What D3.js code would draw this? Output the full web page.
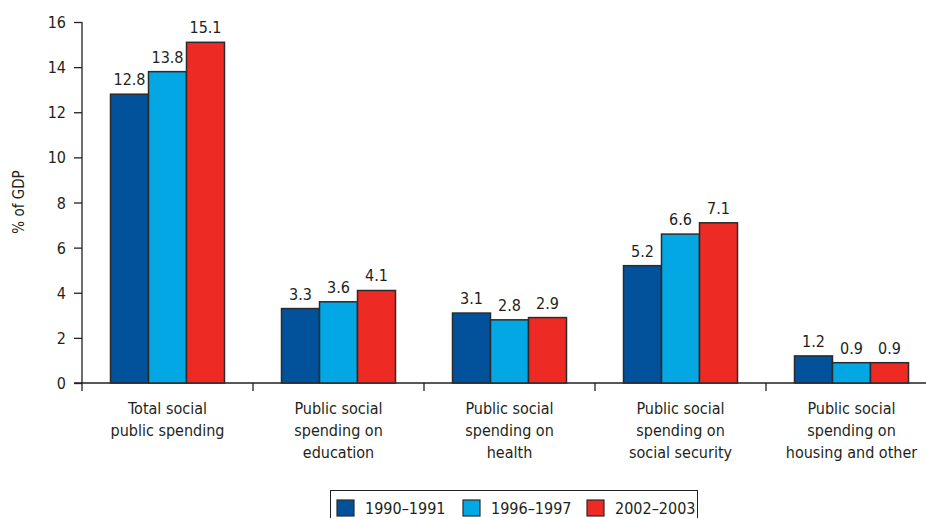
<!DOCTYPE html>
<html>
<head>
<meta charset="utf-8">
<script src="https://cdn.jsdelivr.net/npm/d3@7"></script>
<style>
  html, body { margin: 0; padding: 0; background: #fff; }
  svg text { font-family: "Liberation Sans Narrow", "DejaVu Sans Condensed", "Roboto", sans-serif; fill: #231f20; }
</style>
</head>
<body>
<svg id="chart" width="926" height="518"></svg>
<script>
// Public social spending as % of GDP, by component and period
const categories = [
  ["Total social", "public spending"],
  ["Public social", "spending on", "education"],
  ["Public social", "spending on", "health"],
  ["Public social", "spending on", "social security"],
  ["Public social", "spending on", "housing and other"]
];
const periods = ["1990–1991", "1996–1997", "2002–2003"];
const values1990 = [12.8, 3.3, 3.1, 5.2, 1.2];
const values1996 = [13.8, 3.6, 2.8, 6.6, 0.9];
const values2002 = [15.1, 4.1, 2.9, 7.1, 0.9];
const yTicks = [0, 2, 4, 6, 8, 10, 12, 14, 16];
const colors = ["#02529b", "#02a7e3", "#ee2a24"];

const series = [values1990, values1996, values2002];
const svg = d3.select("#chart");

const plotLeft = 82, plotTop = 22, plotBottom = 383;
const bandW = 171;
const plotRight = plotLeft + bandW * categories.length;

const x = d3.scaleBand().domain(d3.range(categories.length)).range([plotLeft, plotRight]).paddingInner(0).paddingOuter(0);
const xInner = d3.scaleBand().domain(d3.range(periods.length)).range([0, x.bandwidth()]).paddingOuter(0.75).paddingInner(0);
const y = d3.scaleLinear().domain([0, 16]).range([plotBottom, plotTop]);

// y axis
const yAxis = svg.append("g").attr("transform", `translate(${plotLeft},0)`)
  .call(d3.axisLeft(y).tickValues(yTicks).tickSize(8).tickPadding(8));
yAxis.select(".domain").remove();
yAxis.selectAll("line").attr("stroke", "#231f20").attr("stroke-width", 1.3);
yAxis.selectAll("text").attr("font-size", 16).attr("dy", "0.35em");
svg.append("line").attr("x1", plotLeft).attr("x2", plotLeft).attr("y1", plotTop).attr("y2", plotBottom + 8)
  .attr("stroke", "#231f20").attr("stroke-width", 1.3);

// x axis baseline and category ticks
svg.append("line").attr("x1", plotLeft - 8).attr("x2", 926).attr("y1", plotBottom).attr("y2", plotBottom)
  .attr("stroke", "#231f20").attr("stroke-width", 1.3);
const bounds = d3.range(categories.length + 1).map(i => plotLeft + i * x.step());
svg.selectAll(".xtick").data(bounds.slice(1)).join("line")
  .attr("x1", d => d).attr("x2", d => d).attr("y1", plotBottom).attr("y2", plotBottom + 8)
  .attr("stroke", "#231f20").attr("stroke-width", 1.3);

// bars
const groups = svg.selectAll(".grp").data(categories).join("g")
  .attr("transform", (d, i) => `translate(${x(i)},0)`);
periods.forEach((p, s) => {
  groups.append("rect")
    .attr("x", (d, i) => xInner(s))
    .attr("y", (d, i) => y(series[s][i]))
    .attr("width", xInner.bandwidth())
    .attr("height", (d, i) => y(0) - y(series[s][i]))
    .attr("fill", colors[s])
    .attr("stroke", "#2b2b2b").attr("stroke-width", 1.5);
  groups.append("text")
    .attr("x", (d, i) => xInner(s) + xInner.bandwidth() / 2)
    .attr("y", (d, i) => y(series[s][i]) - 9)
    .attr("text-anchor", "middle").attr("font-size", 16)
    .text((d, i) => series[s][i].toFixed(1));
});

// category labels
groups.each(function(lines) {
  const t = d3.select(this).append("text")
    .attr("text-anchor", "middle").attr("font-size", 16);
  lines.forEach((ln, k) => {
    t.append("tspan").attr("x", x.bandwidth() / 2).attr("y", 414 + k * 22).text(ln);
  });
});

// y axis title
svg.append("text").attr("transform", "translate(24,202) rotate(-90)")
  .attr("text-anchor", "middle").attr("font-size", 15).text("% of GDP");

// legend
const lg = svg.append("g");
lg.append("rect").attr("x", 330.5).attr("y", 490.5).attr("width", 367).attr("height", 40)
  .attr("fill", "#fff").attr("stroke", "#231f20").attr("stroke-width", 1);
const lgX = [337, 463, 587];
periods.forEach((p, s) => {
  lg.append("rect").attr("x", lgX[s]).attr("y", 500).attr("width", 17).attr("height", 16)
    .attr("fill", colors[s]).attr("stroke", "#2b2b2b").attr("stroke-width", 1.2);
  lg.append("text").attr("x", lgX[s] + 28).attr("y", 514).attr("font-size", 16).text(p);
});
</script>
</body>
</html>
